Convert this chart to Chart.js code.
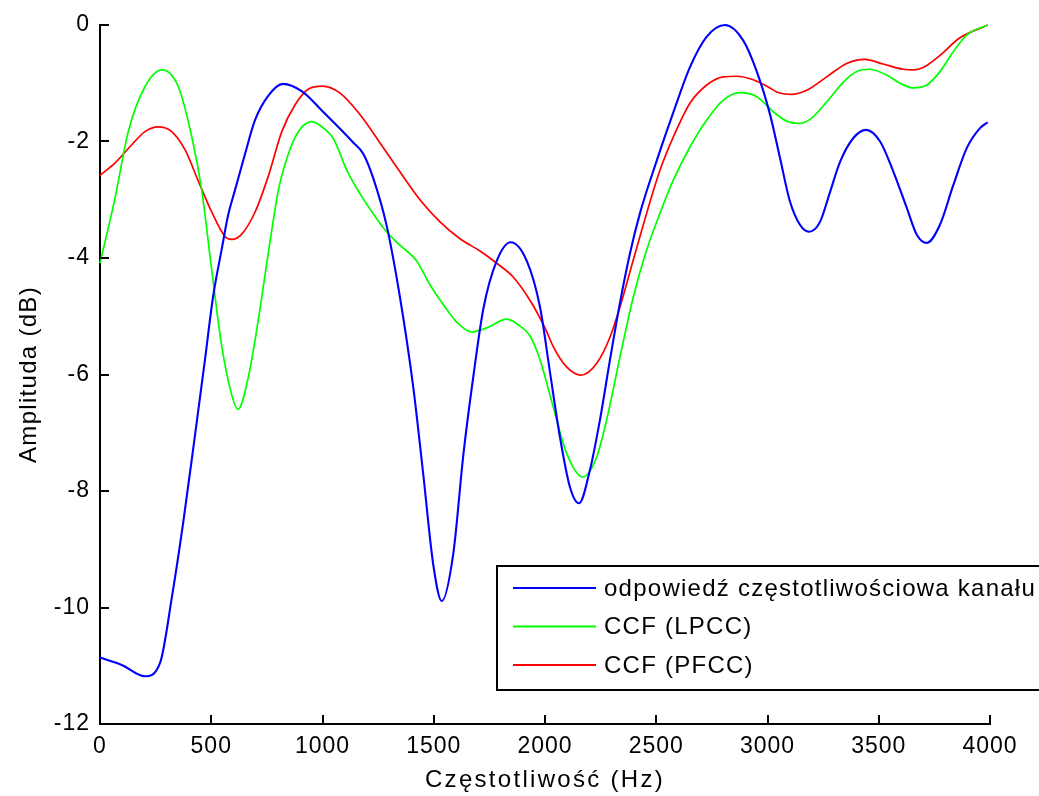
<!DOCTYPE html>
<html>
<head>
<meta charset="utf-8">
<script src="https://cdn.jsdelivr.net/npm/chart.js@4.4.1/dist/chart.umd.min.js"></script>
<style>
  html, body { margin: 0; padding: 0; background: #fff; }
  #wrap { width: 1039px; height: 796px; position: relative; }
</style>
</head>
<body>
<div id="wrap"><canvas id="c"></canvas></div>
<script>
// ---- data ----
const seriesNames = ['odpowiedź częstotliwościowa kanału', 'CCF (LPCC)', 'CCF (PFCC)'];
const seriesColors = ['#0000ff', '#00ff00', '#ff0000'];

const channelHz = [0,100,202,270,324,373,427,472,508,548,575,607,652,697,755,822,908,1000,1139,1183,1228,1288,1348,1408,1453,1498,1536,1588,1633,1678,1723,1783,1846,1918,1978,2022,2067,2112,2153,2202,2247,2292,2337,2382,2427,2503,2576,2652,2727,2809,2890,2952,3011,3056,3101,3146,3187,3236,3281,3326,3386,3443,3506,3566,3626,3671,3716,3775,3835,3896,3955,3990];
const channelDb = [-10.86,-10.99,-11.18,-10.95,-9.8,-8.57,-7.04,-5.74,-4.67,-3.83,-3.28,-2.83,-2.21,-1.63,-1.22,-1.01,-1.14,-1.48,-2.02,-2.21,-2.63,-3.44,-4.67,-6.22,-7.72,-9.27,-9.89,-9.07,-7.38,-6.03,-4.87,-4.05,-3.73,-4.05,-4.85,-5.95,-7.07,-7.93,-8.21,-7.64,-6.78,-5.75,-4.77,-3.92,-3.23,-2.32,-1.51,-0.72,-0.2,0,-0.26,-0.8,-1.53,-2.28,-3.03,-3.43,-3.55,-3.38,-2.87,-2.35,-1.94,-1.8,-2.0,-2.52,-3.14,-3.6,-3.74,-3.43,-2.75,-2.11,-1.77,-1.67];

const lpccHz = [0,67,127,202,279,352,412,457,502,547,592,620,667,712,757,802,847,892,951,1011,1049,1109,1169,1228,1288,1348,1423,1483,1543,1603,1670,1738,1828,1888,1933,1978,2037,2097,2170,2232,2277,2337,2397,2457,2517,2577,2652,2727,2801,2876,2952,3026,3086,3138,3191,3266,3341,3401,3457,3536,3596,3656,3716,3775,3835,3896,3990];
const lpccDb = [-4.09,-2.98,-1.83,-1.06,-0.77,-1.06,-1.91,-2.83,-4.2,-5.51,-6.35,-6.6,-6.04,-5.05,-3.9,-2.83,-2.21,-1.83,-1.66,-1.79,-1.95,-2.49,-2.9,-3.24,-3.55,-3.78,-4.05,-4.46,-4.8,-5.1,-5.27,-5.2,-5.05,-5.17,-5.34,-5.75,-6.56,-7.35,-7.76,-7.42,-6.78,-5.7,-4.67,-3.86,-3.23,-2.66,-2.09,-1.63,-1.29,-1.16,-1.23,-1.49,-1.65,-1.69,-1.62,-1.32,-0.98,-0.8,-0.76,-0.86,-1.0,-1.08,-1.03,-0.8,-0.46,-0.17,0];

const pfccHz = [0,67,142,202,262,322,382,442,502,562,592,637,697,757,817,877,937,1000,1079,1169,1258,1348,1438,1528,1618,1708,1783,1858,1933,2000,2037,2097,2162,2232,2292,2337,2397,2457,2517,2577,2652,2727,2801,2861,2936,3011,3041,3108,3176,3266,3356,3438,3519,3610,3655,3700,3775,3865,3990];
const pfccDb = [-2.58,-2.37,-2.06,-1.83,-1.75,-1.83,-2.14,-2.68,-3.21,-3.63,-3.68,-3.59,-3.21,-2.59,-1.83,-1.37,-1.1,-1.05,-1.17,-1.54,-2.02,-2.52,-3.0,-3.38,-3.67,-3.88,-4.09,-4.33,-4.73,-5.2,-5.52,-5.87,-6.01,-5.81,-5.36,-4.84,-4.03,-3.23,-2.49,-1.92,-1.34,-1.03,-0.89,-0.88,-0.94,-1.08,-1.15,-1.19,-1.12,-0.89,-0.66,-0.59,-0.67,-0.76,-0.77,-0.73,-0.52,-0.22,0];

const xTicks = [0,500,1000,1500,2000,2500,3000,3500,4000];
const yTicks = [-12,-10,-8,-6,-4,-2,0];
const xTitle = 'Częstotliwość (Hz)';
const yTitle = 'Amplituda (dB)';

// ---- build chart ----
const pts = (hz, db) => hz.map((x, i) => ({ x: x, y: db[i] }));
const FONT = 'Liberation Sans, Arial, sans-serif';

const spacingPlugin = {
  id: 'spacing',
  beforeDraw(chart) { chart.ctx.letterSpacing = '1px'; }
};

// wider letter spacing for the axis titles only
function spacedTitle(scale, spacing) {
  if (scale._spacedTitle) return;
  scale._spacedTitle = true;
  const orig = scale.drawTitle.bind(scale);
  scale.drawTitle = function () {
    const prev = this.ctx.letterSpacing;
    this.ctx.letterSpacing = spacing;
    orig();
    this.ctx.letterSpacing = prev;
  };
}

const inwardTicks = {
  id: 'inwardTicks',
  afterDraw(chart) {
    const ctx = chart.ctx, a = chart.chartArea;
    const xs = chart.scales.x, ys = chart.scales.y;
    const L = 9;
    ctx.save();
    ctx.strokeStyle = '#000';
    ctx.lineWidth = 2;
    ctx.beginPath();
    xTicks.forEach(v => {
      const px = Math.round(xs.getPixelForValue(v));
      ctx.moveTo(px, a.bottom);
      ctx.lineTo(px, a.bottom - L);
    });
    yTicks.forEach(v => {
      const py = Math.round(ys.getPixelForValue(v));
      ctx.moveTo(a.left, py);
      ctx.lineTo(a.left + L, py);
    });
    ctx.stroke();
    ctx.restore();
  }
};

const boxLegend = {
  id: 'boxLegend',
  afterDraw(chart) {
    const ctx = chart.ctx;
    const left = 497, top = 566, bottom = 690, right = 1050;
    ctx.save();
    ctx.fillStyle = '#fff';
    ctx.fillRect(left, top, right - left, bottom - top);
    ctx.strokeStyle = '#000';
    ctx.lineWidth = 2;
    ctx.strokeRect(left, top, right - left, bottom - top);
    const rows = [588, 626.5, 665];
    ctx.font = '24px ' + FONT;
    ctx.letterSpacing = '1.25px';
    ctx.textBaseline = 'middle';
    ctx.textAlign = 'left';
    seriesNames.forEach((name, i) => {
      ctx.strokeStyle = seriesColors[i];
      ctx.lineWidth = 2;
      ctx.beginPath();
      ctx.moveTo(513, rows[i]);
      ctx.lineTo(596, rows[i]);
      ctx.stroke();
      ctx.fillStyle = '#000';
      ctx.fillText(name, 604, rows[i] + 1);
    });
    ctx.restore();
  }
};

Chart.defaults.font.family = FONT;
Chart.defaults.color = '#000';

new Chart(document.getElementById('c'), {
  type: 'line',
  data: {
    datasets: [
      { label: seriesNames[0], data: pts(channelHz, channelDb), borderColor: seriesColors[0], borderWidth: 2.1 },
      { label: seriesNames[1], data: pts(lpccHz, lpccDb), borderColor: seriesColors[1], borderWidth: 1.7 },
      { label: seriesNames[2], data: pts(pfccHz, pfccDb), borderColor: seriesColors[2], borderWidth: 1.7 }
    ].map(d => Object.assign(d, { pointRadius: 0, fill: false, cubicInterpolationMode: 'monotone', clip: false }))
  },
  options: {
    responsive: true,
    maintainAspectRatio: false,
    animation: false,
    events: [],
    layout: { padding: { top: 25, right: 49, left: 0, bottom: 0 } },
    plugins: { legend: { display: false }, tooltip: { enabled: false } },
    scales: {
      x: {
        type: 'linear', min: 0, max: 4000,
        afterBuildTicks: s => { s.ticks = xTicks.map(v => ({ value: v })); },
        afterFit: s => { s.height = 72; spacedTitle(s, '2.3px'); },
        grid: { display: false, drawTicks: false },
        border: { display: true, color: '#000', width: 2 },
        ticks: { padding: 9, font: { size: 23 }, maxRotation: 0, autoSkip: false, callback: v => String(v) },
        title: { display: true, text: xTitle, font: { size: 24 }, padding: { top: 0, bottom: 1 } }
      },
      y: {
        type: 'linear', min: -12, max: 0,
        afterBuildTicks: s => { s.ticks = yTicks.map(v => ({ value: v })); },
        afterFit: s => { s.width = 100; spacedTitle(s, '1.3px'); },
        grid: { display: false, drawTicks: false },
        border: { display: true, color: '#000', width: 2 },
        ticks: { padding: 10, font: { size: 23 }, autoSkip: false, callback: v => String(v) },
        title: { display: true, text: yTitle, font: { size: 24 }, padding: { top: 15, bottom: 0 } }
      }
    }
  },
  plugins: [spacingPlugin, inwardTicks, boxLegend]
});
</script>
</body>
</html>
